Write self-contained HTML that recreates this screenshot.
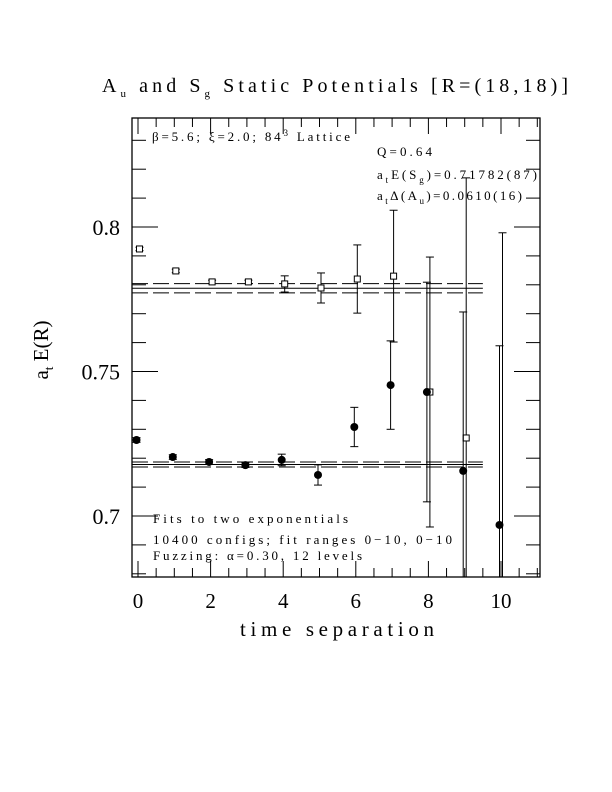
<!DOCTYPE html>
<html><head><meta charset="utf-8"><style>
html,body{margin:0;padding:0;background:#fff;overflow:hidden;width:612px;height:792px;}
svg{display:block;font-family:"Liberation Serif",serif;}
</style></head><body>
<svg id="chart" width="612" height="792" viewBox="0 0 612 792">
<defs><clipPath id="clip"><rect x="132" y="118" width="408" height="459"/></clipPath></defs>
<text x="102" y="92" font-size="20" textLength="466" lengthAdjust="spacing">A<tspan font-size="11" dy="5">u</tspan><tspan dy="-5"> and S</tspan><tspan font-size="11" dy="5">g</tspan><tspan dy="-5"> Static Potentials [R=(18,18)]</tspan></text>
<g id="axes"></g>
<g id="fits"></g>
<g id="marks" clip-path="url(#clip)"></g>
<text x="152" y="141" font-size="13" textLength="198" lengthAdjust="spacing">β=5.6; ξ=2.0; 84<tspan font-size="9" dy="-5">3</tspan><tspan dy="5"> Lattice</tspan></text>
<text x="377" y="156" font-size="13" textLength="55" lengthAdjust="spacing">Q=0.64</text>
<text x="377" y="179" font-size="13" textLength="160" lengthAdjust="spacing">a<tspan font-size="9" dy="4">t</tspan><tspan dy="-4">E(S</tspan><tspan font-size="9" dy="4">g</tspan><tspan dy="-4">)=0.71782(87)</tspan></text>
<text x="377" y="200" font-size="13" textLength="145" lengthAdjust="spacing">a<tspan font-size="9" dy="4">t</tspan><tspan dy="-4">Δ(A</tspan><tspan font-size="9" dy="4">u</tspan><tspan dy="-4">)=0.0610(16)</tspan></text>
<text x="153" y="523" font-size="13" textLength="195" lengthAdjust="spacing">Fits to two exponentials</text>
<text x="153" y="544" font-size="13" textLength="299" lengthAdjust="spacing">10400 configs; fit ranges 0−10, 0−10</text>
<text x="153" y="560" font-size="13" textLength="209" lengthAdjust="spacing">Fuzzing: α=0.30, 12 levels</text>
<text x="240" y="636" font-size="21" textLength="194" lengthAdjust="spacing">time separation</text>
<text transform="translate(48,350) rotate(-90)" font-size="21" text-anchor="middle">a<tspan font-size="13" dy="5">t</tspan><tspan dy="-5"> E(R)</tspan></text>
</svg>
<script>
const tVals=[0,1,2,3,4,5,6,7,8,9,10];
const sgVals=[0.7263,0.7204,0.7187,0.7176,0.7194,0.7142,0.7308,0.7453,0.7429,0.7156,0.6969];
const sgErrs=[0.0008,0.0008,0.0008,0.0008,0.002,0.0035,0.0068,0.0153,0.038,0.055,0.062];
const auVals=[0.7924,0.7848,0.781,0.781,0.7803,0.7789,0.782,0.783,0.7429,0.727,0.66];
const auErrs=[0.0006,0.0006,0.0006,0.0006,0.0028,0.0052,0.0118,0.0228,0.0467,0.09,0.138];
const fitSg=[0.71782,0.00087];
const fitAu=[0.77882,0.0016];
const yTicks=[0.7,0.75,0.8];
const xTicks=[0,2,4,6,8,10];
const NS="http://www.w3.org/2000/svg";
const L=132,R=540,T=118,B=577;
const X=t=>138+t*36.3;
const Y=v=>227-(v-0.8)*2890;
function mk(tag,attrs,parent){const e=document.createElementNS(NS,tag);for(const k in attrs)e.setAttribute(k,attrs[k]);parent.appendChild(e);return e;}
const ax=document.getElementById('axes');
const fr=mk('rect',{x:L,y:T,width:R-L,height:B-T,fill:'none',stroke:'#000','stroke-width':1.3},ax);


for(let v=0.68;v<=0.8375;v+=0.01){const y=Y(v);const major=yTicks.some(t=>Math.abs(t-v)<1e-6);const len=major?26:14;
 const a=mk('line',{x1:L,x2:L+len,y1:y,y2:y,stroke:'#000'},ax);
 
 
 const b=mk('line',{x1:R-len,x2:R,y1:y,y2:y,stroke:'#000'},ax);
 
 }
for(let t=0;t<=11;t+=0.5){const x=X(t);const major=xTicks.includes(t);const len=major?16:9;
 const a=mk('line',{x1:x,x2:x,y1:B,y2:B-len,stroke:'#000'},ax);
 
 
 const b=mk('line',{x1:x,x2:x,y1:T,y2:T+len,stroke:'#000'},ax);
 
 }
yTicks.forEach(v=>{const e=mk('text',{x:120,y:Y(v)+8,'font-size':22,'text-anchor':'end'},ax);e.textContent=String(v);
 
 });
xTicks.forEach(t=>{const e=mk('text',{x:X(t),y:608,'font-size':21,'text-anchor':'middle'},ax);e.textContent=String(t);
 
 });
const fg=document.getElementById('fits');
[fitSg,fitAu].forEach(f=>{
 const s=mk('line',{x1:L,x2:X(9.5),y1:Y(f[0]),y2:Y(f[0]),stroke:'#000'},fg);
 
 
 [f[0]+f[1],f[0]-f[1]].forEach(v=>{const d=mk('line',{x1:L,x2:X(9.5),y1:Y(v),y2:Y(v),stroke:'#000','stroke-dasharray':'16,5'},fg);
  
  });});
const mg=document.getElementById('marks');
function errbar(x,v,e,name){const y1=Y(v+e),y2=Y(v-e);
 const g=mk('g',{},mg);
 
 
 mk('line',{x1:x,x2:x,y1:y1,y2:y2,stroke:'#000'},g);mk('line',{x1:x-4,x2:x+4,y1:y1,y2:y1,stroke:'#000'},g);mk('line',{x1:x-4,x2:x+4,y1:y2,y2:y2,stroke:'#000'},g);}
tVals.forEach((t,i)=>{
 const xa=X(t)+1.5;errbar(xa,auVals[i],auErrs[i],'au-error-bar');
 const r=mk('rect',{x:xa-3,y:Y(auVals[i])-3,width:6,height:6,fill:'#fff',stroke:'#000'},mg);
 
 
 const xs=X(t)-1.5;errbar(xs,sgVals[i],sgErrs[i],'sg-error-bar');
 const c=mk('circle',{cx:xs,cy:Y(sgVals[i]),r:4,fill:'#000'},mg);
 
 });
</script>
</body></html>
